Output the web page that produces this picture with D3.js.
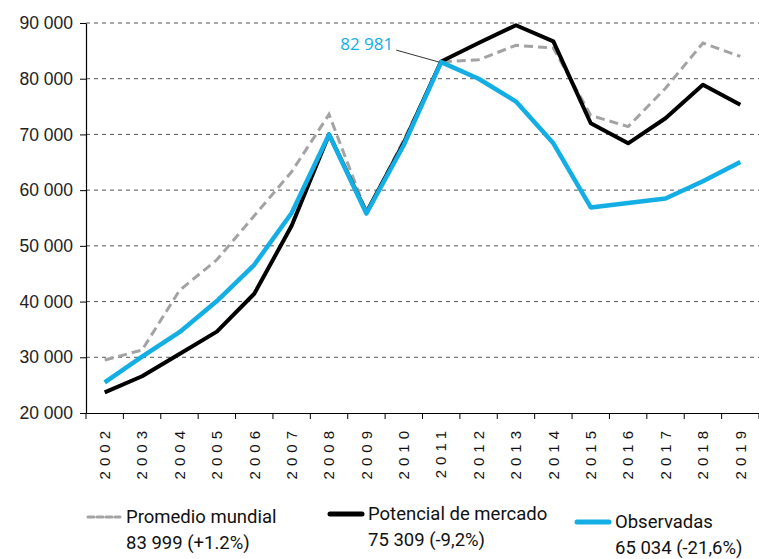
<!DOCTYPE html>
<html>
<head>
<meta charset="utf-8">
<script src="https://cdn.jsdelivr.net/npm/d3@7"></script>
<style>
  body { margin: 0; background: #fff; }
  svg { display: block; font-family: "Open Sans", "DejaVu Sans", sans-serif; }
</style>
</head>
<body>
<figure id="chart" style="margin:0"></figure>
<script>
const years = ['2002','2003','2004','2005','2006','2007','2008','2009','2010','2011',
  '2012','2013','2014','2015','2016','2017','2018','2019'];

// Promedio mundial (dashed gray)
const promedio = [29500, 31300, 42000, 47500, 55400, 63300, 73600, 56000, 69000, 83000,
  83400, 86000, 85500, 73400, 71400, 78300, 86400, 83999];
// Potencial de mercado (black)
const potencial = [23700, 26600, 30600, 34600, 41400, 53600, 70000, 56000, 68500, 83100,
  86400, 89600, 86700, 72000, 68400, 72900, 78900, 75309];
// Observadas (blue)
const observadas = [25500, 30100, 34500, 40100, 46600, 55900, 70000, 55800, 68100, 82981,
  80000, 75900, 68400, 56900, 57700, 58500, 61600, 65034];

const yTicks = [20000, 30000, 40000, 50000, 60000, 70000, 80000, 90000];

const legendItems = [
  { name: 'Promedio mundial', sub: '83 999 (+1.2%)' },
  { name: 'Potencial de mercado', sub: '75 309 (-9,2%)' },
  { name: 'Observadas', sub: '65 034 (-21,6%)' }
];

const width = 759, height = 559;
const plot = { left: 86, right: 759, top: 23, bottom: 413 };

const locale = d3.formatLocale({ decimal: ',', thousands: ' ', grouping: [3], currency: ['', ''] });
const fmt = locale.format(',');

const svg = d3.select('#chart').append('svg')
  .attr('width', width)
  .attr('height', height);

const x = d3.scaleBand().domain(years).range([plot.left, plot.right]);
const y = d3.scaleLinear().domain([20000, 90000]).range([plot.bottom, plot.top]);

// gridlines
svg.append('g')
  .selectAll('line')
  .data(yTicks.slice(1))
  .join('line')
  .attr('x1', plot.left)
  .attr('x2', plot.right)
  .attr('y1', d => y(d))
  .attr('y2', d => y(d))
  .attr('stroke', '#555')
  .attr('stroke-width', 1)
  .attr('stroke-dasharray', '4,4');

// y axis
svg.append('g')
  .attr('transform', 'translate(' + plot.left + ',0)')
  .call(d3.axisLeft(y).tickValues(yTicks).tickFormat(fmt).tickSize(6).tickSizeOuter(0))
  .call(g => g.select('.domain').attr('stroke', '#000').attr('stroke-width', 1.2))
  .call(g => g.selectAll('.tick line').attr('stroke', '#000'))
  .call(g => g.selectAll('.tick text')
    .attr('x', -13)
    .attr('fill', '#222')
    .style('font-size', '17.5px'));

// x axis labels
svg.append('g')
  .attr('transform', 'translate(0,' + plot.bottom + ')')
  .call(d3.axisBottom(x).tickSize(0).tickSizeOuter(0))
  .call(g => g.select('.domain').attr('stroke', '#000').attr('stroke-width', 1.2))
  .call(g => g.selectAll('.tick text')
    .attr('transform', 'rotate(-90)')
    .attr('x', -13)
    .attr('y', 0)
    .attr('dy', '0.35em')
    .attr('text-anchor', 'end')
    .attr('fill', '#111')
    .style('letter-spacing', '5px')
    .style('font-size', '15px'));

// x tick marks at band edges
const edges = years.map(d => x(d)).concat([x(years[years.length - 1]) + x.bandwidth()]);
svg.append('g')
  .selectAll('line')
  .data(edges)
  .join('line')
  .attr('x1', d => d)
  .attr('x2', d => d)
  .attr('y1', plot.bottom)
  .attr('y2', plot.bottom + 6)
  .attr('stroke', '#000');

const cx = i => x(years[i]) + x.bandwidth() / 2;
const line = d3.line()
  .x((d, i) => cx(i))
  .y(d => y(d));

svg.append('path')
  .attr('d', line(promedio))
  .attr('fill', 'none')
  .attr('stroke', '#a3a3a3')
  .attr('stroke-width', 3)
  .attr('stroke-dasharray', '9,5');

svg.append('path')
  .attr('d', line(potencial))
  .attr('fill', 'none')
  .attr('stroke', '#000')
  .attr('stroke-width', 4)
  .attr('stroke-linejoin', 'round');

svg.append('path')
  .attr('d', line(observadas))
  .attr('fill', 'none')
  .attr('stroke', '#13aee3')
  .attr('stroke-width', 4.5)
  .attr('stroke-linejoin', 'round');

// annotation for 2011
const iPeak = years.indexOf('2011');
svg.append('line')
  .attr('x1', cx(iPeak) - 45)
  .attr('y1', y(observadas[iPeak]) - 12)
  .attr('x2', cx(iPeak) - 2)
  .attr('y2', y(observadas[iPeak]))
  .attr('stroke', '#000')
  .attr('stroke-width', 0.8);
svg.append('text')
  .attr('x', cx(iPeak) - 48)
  .attr('y', y(observadas[iPeak]) - 12)
  .attr('text-anchor', 'end')
  .attr('fill', '#13aee3')
  .style('font-size', '17px')
  .text(fmt(observadas[iPeak]));

// legend
const legendPos = [
  { x: 88, y: 517, stroke: '#a3a3a3', w: 3, dash: '6,3' },
  { x: 330, y: 514, stroke: '#000', w: 5, dash: null },
  { x: 577, y: 522, stroke: '#13aee3', w: 5, dash: null }
];
const lg = svg.append('g')
  .style('font-family', '"Liberation Sans Narrow", "Roboto", sans-serif')
  .style('font-size', '18.5px');
legendItems.forEach((d, i) => {
  const p = legendPos[i];
  lg.append('line')
    .attr('x1', p.x).attr('x2', p.x + 32)
    .attr('y1', p.y).attr('y2', p.y)
    .attr('stroke', p.stroke)
    .attr('stroke-width', p.w)
    .attr('stroke-linecap', 'round')
    .attr('stroke-dasharray', p.dash);
  lg.append('text')
    .attr('x', p.x + 38)
    .attr('y', p.y + 6)
    .attr('fill', '#111')
    .text(d.name);
  lg.append('text')
    .attr('x', p.x + 38)
    .attr('y', p.y + 32)
    .attr('fill', '#111')
    .text(d.sub);
});
</script>
</body>
</html>
